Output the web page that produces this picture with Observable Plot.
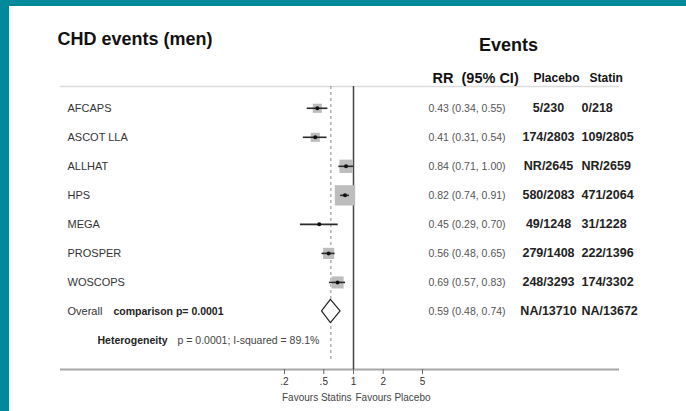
<!DOCTYPE html>
<html>
<head>
<meta charset="utf-8">
<script src="https://cdn.jsdelivr.net/npm/d3@7"></script>
<script src="https://cdn.jsdelivr.net/npm/@observablehq/plot@0.6"></script>
<style>
  html, body { margin: 0; padding: 0; }
  body { width: 686px; height: 411px; background: #00899b; overflow: hidden; position: relative; }
  #card { position: absolute; left: 9px; top: 6px; width: 677px; height: 405px; background: #fff; }
  #card svg { position: absolute; left: 0; top: 0; }
</style>
</head>
<body>
<div id="card"></div>
<script>
// Trials in the meta-analysis of CHD events in men
const studies  = ["AFCAPS", "ASCOT LLA", "ALLHAT", "HPS", "MEGA", "PROSPER", "WOSCOPS"];
const rr       = [0.43, 0.41, 0.84, 0.82, 0.45, 0.56, 0.69];
const rrLow    = [0.34, 0.31, 0.71, 0.74, 0.29, 0.48, 0.57];
const rrHigh   = [0.55, 0.54, 1.00, 0.91, 0.70, 0.65, 0.83];
const weights  = [8, 8, 17, 40, 1, 12, 14];   // % weight, sets the box area
const placebo  = ["5/230", "174/2803", "NR/2645", "580/2083", "49/1248", "279/1408", "248/3293"];
const statin   = ["0/218", "109/2805", "NR/2659", "471/2064", "31/1228", "222/1396", "174/3302"];

// Pooled estimate
const overallRR = 0.59, overallLow = 0.48, overallHigh = 0.74;
const overallPlacebo = "NA/13710", overallStatin = "NA/13672";
const comparisonText = "comparison p= 0.0001";
const heterogeneityText = "p = 0.0001; I-squared = 89.1%";

// Axis
const tickValues = [0.2, 0.5, 1, 2, 5];
const tickLabels = [".2", ".5", "1", "2", "5"];

const fmt = (v) => v.toFixed(2);
const ciText = (e, l, h) => `${fmt(e)} (${fmt(l)}, ${fmt(h)})`;

const rows = studies.map((s, i) => ({
  i, study: s, rr: rr[i], lo: rrLow[i], hi: rrHigh[i], w: weights[i],
  ci: ciText(rr[i], rrLow[i], rrHigh[i]), placebo: placebo[i], statin: statin[i]
}));
const overallRow = studies.length;          // row index of the pooled line
const hetRow = overallRow + 1;               // row index of the heterogeneity note
const rowSpan = [-0.75, hetRow + 1];         // vertical extent in row units

const tableRows = [
  ...rows,
  {i: overallRow, study: "Overall", ci: ciText(overallRR, overallLow, overallHigh),
   placebo: overallPlacebo, statin: overallStatin}
];

// Diamond for the pooled estimate
const halfH = 0.4;
const diamond = [
  {x: overallLow,  top: overallRow, bottom: overallRow},
  {x: overallRR,   top: overallRow - halfH, bottom: overallRow + halfH},
  {x: overallHigh, top: overallRow, bottom: overallRow}
];

const font = "'Liberation Sans', Arial, Helvetica, sans-serif";

const chart = Plot.plot({
  width: 677,
  height: 405,
  marginLeft: 51,
  marginRight: 67,
  marginTop: 80,
  marginBottom: 42,
  style: {fontFamily: font, background: "transparent", overflow: "visible"},
  x: {type: "log", domain: [0.2, 5], range: [275, 413], axis: null},
  y: {domain: rowSpan, reverse: true, axis: null},
  r: {type: "sqrt", domain: [0, 40], range: [0, 11.5]},
  marks: [
    // header separator and baseline
    Plot.ruleY([rowSpan[0]], {stroke: "#dcdcdc", strokeWidth: 1.5}),
    Plot.ruleY([rowSpan[1]], {stroke: "#a8a8a8", strokeWidth: 2}),

    // pooled estimate (dashed) and line of no effect
    Plot.ruleX([overallRR], {y1: rowSpan[0], y2: rowSpan[1] - 0.3, stroke: "#8a8a8a", strokeWidth: 1, strokeDasharray: "3,3"}),
    Plot.ruleX([1], {y1: rowSpan[0], y2: rowSpan[1], stroke: "#444", strokeWidth: 1.5}),

    // x axis
    Plot.axisX({ticks: tickValues, tickFormat: (d) => tickLabels[tickValues.indexOf(d)],
      tickSize: 5, tickPadding: 3, fontSize: 10, label: null, stroke: "#666", fill: "#333"}),
    Plot.text([1], {x: (d) => d, frameAnchor: "bottom", dy: 31, dx: -2, textAnchor: "end",
      text: () => "Favours Statins", fontSize: 10, fill: "#444"}),
    Plot.text([1], {x: (d) => d, frameAnchor: "bottom", dy: 31, dx: 2, textAnchor: "start",
      text: () => "Favours Placebo", fontSize: 10, fill: "#444"}),

    // study weight boxes, confidence intervals, point estimates
    Plot.dot(rows, {x: "rr", y: "i", r: "w", symbol: "square", fill: "#bdbdbd", stroke: null}),
    Plot.ruleY(rows, {y: "i", x1: "lo", x2: "hi", stroke: "#2a2a2a", strokeWidth: 1.6}),
    Plot.dot(rows, {x: "rr", y: "i", r: 2, fill: "#111", stroke: null}),

    // pooled diamond
    Plot.areaY(diamond, {x: "x", y1: "top", y2: "bottom", fill: "white", stroke: "#222", strokeWidth: 1.2}),

    // titles and column headers
    Plot.text(["CHD events (men)"], {frameAnchor: "top-left", dx: -3, dy: -54, textAnchor: "start",
      text: (d) => d, fontSize: 18, fontWeight: "bold", fill: "#111"}),
    Plot.text(["Events"], {frameAnchor: "top-left", dx: 448, dy: -48, textAnchor: "middle",
      text: (d) => d, fontSize: 18, fontWeight: "bold", fill: "#111"}),
    Plot.text(["RR\u00a0 (95% CI)"], {frameAnchor: "top-left", dx: 372, dy: -14, textAnchor: "start",
      text: (d) => d, fontSize: 14.5, fontWeight: "bold", fill: "#111"}),
    Plot.text(["Placebo"], {frameAnchor: "top-left", dx: 473, dy: -13, textAnchor: "start",
      text: (d) => d, fontSize: 12, fontWeight: "bold", fill: "#111"}),
    Plot.text(["Statin"], {frameAnchor: "top-left", dx: 529, dy: -13, textAnchor: "start",
      text: (d) => d, fontSize: 12, fontWeight: "bold", fill: "#111"}),

    // table columns
    Plot.text(tableRows, {y: "i", text: "study", frameAnchor: "left", dx: 7, textAnchor: "start",
      fontSize: 11, fill: "#333"}),
    Plot.text([comparisonText], {y: () => overallRow, text: (d) => d, frameAnchor: "left", dx: 53,
      textAnchor: "start", fontSize: 10.5, fontWeight: "bold", fill: "#222"}),
    Plot.text(["Heterogeneity"], {y: () => hetRow, text: (d) => d, frameAnchor: "left", dx: 37,
      textAnchor: "start", fontSize: 10.5, fontWeight: "bold", fill: "#222"}),
    Plot.text([heterogeneityText], {y: () => hetRow, text: (d) => d, frameAnchor: "left", dx: 117,
      textAnchor: "start", fontSize: 10.5, fill: "#444"}),
    Plot.text(tableRows, {y: "i", text: "ci", frameAnchor: "left", dx: 368, textAnchor: "start",
      fontSize: 10.5, fill: "#555"}),
    Plot.text(tableRows, {y: "i", text: "placebo", frameAnchor: "left", dx: 488, textAnchor: "middle",
      fontSize: 12.5, fontWeight: "bold", fill: "#222"}),
    Plot.text(tableRows, {y: "i", text: "statin", frameAnchor: "left", dx: 521, textAnchor: "start",
      fontSize: 12.5, fontWeight: "bold", fill: "#222"})
  ]
});

document.getElementById("card").appendChild(chart);
</script>
</body>
</html>
